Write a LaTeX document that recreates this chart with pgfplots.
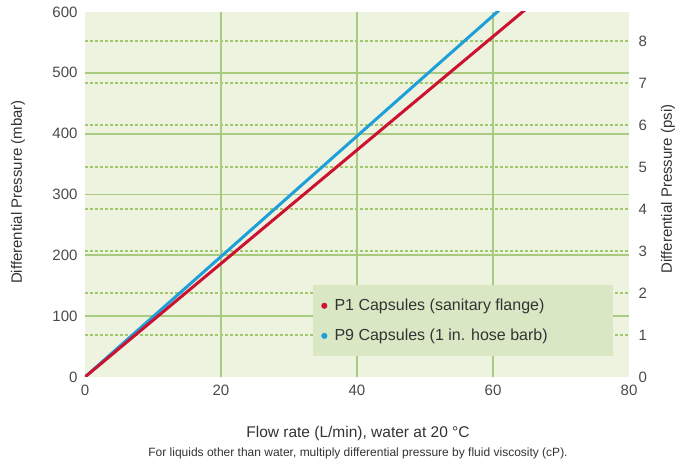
\documentclass[border=0pt]{standalone}
\usepackage{fontspec}
\setmainfont{Liberation Sans}
\usepackage{pgfplots}
\pgfplotsset{compat=1.18}

\definecolor{bggreen}{HTML}{EEF3DF}
\definecolor{gridgreen}{HTML}{A9CB80}
\definecolor{dotgreen}{HTML}{9FC96C}
\definecolor{legendgreen}{HTML}{D9E7C4}
\definecolor{p1red}{HTML}{CC1230}
\definecolor{p9blue}{HTML}{1E9FDA}
\definecolor{labeltext}{HTML}{333333}
\definecolor{ticktext}{HTML}{4A4A4A}

\begin{document}
\begin{tikzpicture}
\useasboundingbox (-85pt,-88pt) rectangle (594pt,377pt);

% psi axis (right), drawn first so its dotted grid sits under everything
\begin{axis}[
    at={(0pt,0pt)}, anchor=south west,
    scale only axis, width=544pt, height=365pt,
    xmin=0, xmax=80, ymin=0, ymax=8.7023,
    axis x line=none, axis y line*=right,
    axis line style={draw=none},
    axis background/.style={fill=bggreen},
    tick style={draw=none},
    ytick={1,...,8},
    extra y ticks={0},
    extra tick style={grid=none},
    ymajorgrids,
    major grid style={dotgreen, line width=2pt, dash pattern=on 2.5pt off 2.5pt},
    yticklabel style={font=\fontsize{15}{17}\selectfont, text=ticktext, xshift=6pt},
    /pgf/number format/assume math mode=true,
]
\end{axis}

% mbar axis (left) with the two curves
\begin{axis}[
    at={(0pt,0pt)}, anchor=south west,
    scale only axis, width=544pt, height=365pt,
    xmin=0, xmax=80, ymin=0, ymax=600,
    axis line style={draw=none},
    tick style={draw=none},
    xtick={20,40,60}, ytick={100,200,...,500},
    extra x ticks={0,80}, extra y ticks={0,600},
    extra tick style={grid=none},
    grid=major,
    major grid style={gridgreen, line width=1.8pt},
    xticklabel style={font=\fontsize{15}{17}\selectfont, text=ticktext, yshift=-4pt},
    yticklabel style={font=\fontsize{15}{17}\selectfont, text=ticktext, xshift=-4pt},
    /pgf/number format/assume math mode=true,
    legend cell align=left,
    legend style={
        at={(rel axis cs:0.419,0.252)}, anchor=north west,
        fill=legendgreen, draw=none,
        inner xsep=8pt, inner ysep=12pt, row sep=13pt,
        font=\fontsize{16}{18}\selectfont, text=labeltext,
        /tikz/every odd column/.append style={column sep=5pt},
    },
]
\addlegendimage{legend image code/.code={\fill[p1red] (3pt,0pt) circle (2.8pt); \path (0pt,0pt) (6pt,0pt);}}
\addlegendentry{\makebox[268pt][l]{P1 Capsules (sanitary flange)}}
\addlegendimage{legend image code/.code={\fill[p9blue] (3pt,0pt) circle (2.8pt); \path (0pt,0pt) (6pt,0pt);}}
\addlegendentry{\makebox[268pt][l]{P9 Capsules (1 in. hose barb)}}

\addplot[p9blue, line width=3pt, forget plot] coordinates {(0,0) (62,613.8)};
\addplot[p1red, line width=3pt, forget plot] coordinates {(0,0) (66,615.6)};
\end{axis}

\node[rotate=90, text=labeltext, font=\fontsize{15}{17}\selectfont] at (-67pt,185pt) {Differential Pressure (mbar)};
\node[rotate=90, text=labeltext, font=\fontsize{15}{17}\selectfont] at (583pt,188pt) {Differential Pressure (psi)};
\node[text=labeltext, font=\fontsize{15.5}{17}\selectfont] at (273pt,-56pt) {Flow rate (L/min), water at 20 °C};
\node[text=labeltext, font=\fontsize{12}{14}\selectfont] at (273pt,-76pt) {For liquids other than water, multiply differential pressure by fluid viscosity (cP).};
\end{tikzpicture}
\end{document}
